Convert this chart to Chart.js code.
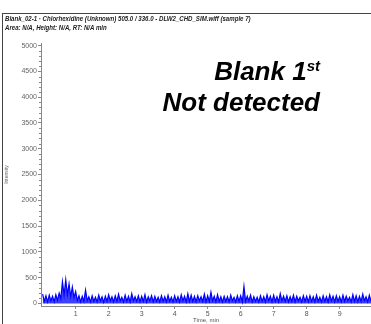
<!DOCTYPE html>
<html>
<head>
<meta charset="utf-8">
<script src="https://cdn.jsdelivr.net/npm/chart.js@4"></script>
<style>
  html, body { margin:0; padding:0; background:#fff; }
  #wrap { position:relative; width:371px; height:324px; overflow:hidden; }
  #c { position:absolute; left:0; top:0; }
  .frameTop { position:absolute; left:2px; top:13px; width:369px; height:1px; background:#444; }
  .frameLeft { position:absolute; left:2px; top:13px; width:1px; height:311px; background:#444; }
  .hdr { position:absolute; left:5px; font-family:"Liberation Sans Narrow","Liberation Sans",Arial,sans-serif;
         font-style:italic; font-weight:bold; font-size:7px; color:#222; white-space:nowrap; line-height:8px;
         transform:scaleX(0.87); transform-origin:left top; }
  .big { position:absolute; right:51px; font-family:"Liberation Sans",Arial,sans-serif; font-style:italic;
         font-weight:bold; font-size:26px; line-height:26px; color:#000; white-space:nowrap; text-align:right; }
  .big sup { font-size:15px; vertical-align:top; line-height:15px; position:relative; top:0px; }
</style>
</head>
<body>
<div id="wrap">
  <canvas id="c" width="371" height="324"></canvas>
  <div class="frameTop"></div>
  <div class="frameLeft"></div>
  <div class="hdr" style="top:15px">Blank_02-1 · Chlorhexidine (Unknown) 505.0 / 336.0 - DLW2_CHD_SIM.wiff (sample 7)</div>
  <div class="hdr" style="top:24px">Area: N/A, Height: N/A, RT: N/A min</div>
  <div class="big" style="top:58px">Blank 1<sup>st</sup></div>
  <div class="big" style="top:89px">Not detected</div>
</div>
<script>
// Time axis sampling (min)
const timeStart = 0;
const timeStep = 0.05;
// Intensity, one value per 0.05 min
const intensity = [
  180,40,150,30,160,50,140,30,170,60,
  200,90,420,160,460,170,380,130,320,110,
  230,60,150,30,140,40,260,50,130,30,
  150,40,120,30,160,50,130,20,140,40,
  170,50,130,30,150,40,180,50,120,30,
  160,40,140,30,190,50,130,40,150,30,
  140,40,170,30,130,50,150,30,140,40,
  120,30,150,40,130,30,160,40,120,30,
  150,40,130,30,170,50,140,30,190,40,
  160,40,140,30,150,50,130,40,180,30,
  150,40,220,50,140,30,170,40,130,30,
  140,40,130,30,160,50,120,30,150,40,
  150,30,330,40,140,50,160,30,130,40,
  120,30,150,40,130,30,170,50,140,30,
  160,40,130,30,190,50,140,40,150,30,
  130,40,160,30,140,50,120,30,150,40,
  140,30,150,40,130,30,160,40,120,30,
  150,40,130,30,170,50,140,30,150,40,
  130,30,160,40,140,50,120,30,170,40,
  150,30,140,40,180,50,130,30,160,40
];
const xTickValues = [1,2,3,4,5,6,7,8,9];
const yTickStep = 500;
const yMinorStep = 100;

const points = intensity.map((v, i) => ({ x: timeStart + i * timeStep, y: v }));

const minorTicks = {
  id: 'minorTicks',
  afterDraw(chart) {
    const ctx = chart.ctx, y = chart.scales.y;
    ctx.save();
    ctx.strokeStyle = '#888';
    ctx.lineWidth = 1;
    for (let v = 0; v <= 5000; v += yMinorStep) {
      if (v % yTickStep === 0) continue;
      const py = Math.round(y.getPixelForValue(v)) + 0.5;
      ctx.beginPath();
      ctx.moveTo(y.right - 2, py);
      ctx.lineTo(y.right, py);
      ctx.stroke();
    }
    ctx.restore();
  }
};

const tickFont = { family: 'Liberation Sans Narrow, Liberation Sans, sans-serif', size: 7 };

new Chart(document.getElementById('c'), {
  type: 'line',
  data: {
    datasets: [{
      data: points,
      borderColor: '#0000ff',
      backgroundColor: 'rgba(0,0,255,0.75)',
      borderWidth: 1.2,
      pointRadius: 0,
      tension: 0,
      fill: 'origin'
    }]
  },
  options: {
    responsive: false,
    animation: false,
    layout: { padding: { top: 43, left: 0, right: 0, bottom: 0 } },
    plugins: { legend: { display: false }, tooltip: { enabled: false } },
    scales: {
      x: {
        type: 'linear',
        min: -0.05,
        max: 9.95,
        afterBuildTicks(s) { s.ticks = xTickValues.map(v => ({ value: v })); },
        afterFit(s) { s.height = 18; },
        grid: { display: true, drawOnChartArea: false, drawTicks: true, tickLength: 3, color: '#888' },
        border: { display: true, color: '#888' },
        ticks: { font: tickFont, color: '#555', padding: 1, maxRotation: 0, autoSkip: false, callback: v => String(v) },
        title: { display: true, text: 'Time, min', font: { family: 'Liberation Sans Narrow, Liberation Sans, sans-serif', size: 6 }, color: '#555', padding: 0 }
      },
      y: {
        min: -50,
        max: 5050,
        afterBuildTicks(s) {
          const t = [];
          for (let v = 0; v <= 5000; v += yTickStep) t.push({ value: v });
          s.ticks = t;
        },
        afterFit(s) { s.width = 41; },
        grid: { display: true, drawOnChartArea: false, drawTicks: true, tickLength: 3, color: '#888' },
        border: { display: true, color: '#888' },
        ticks: { font: tickFont, color: '#666', padding: 1, callback: v => String(v) },
        title: { display: true, text: 'Intensity', font: { family: 'Liberation Sans Narrow, Liberation Sans, sans-serif', size: 5 }, color: '#666', padding: { top: 4, bottom: 0 } }
      }
    }
  },
  plugins: [minorTicks]
});
</script>
</body>
</html>
